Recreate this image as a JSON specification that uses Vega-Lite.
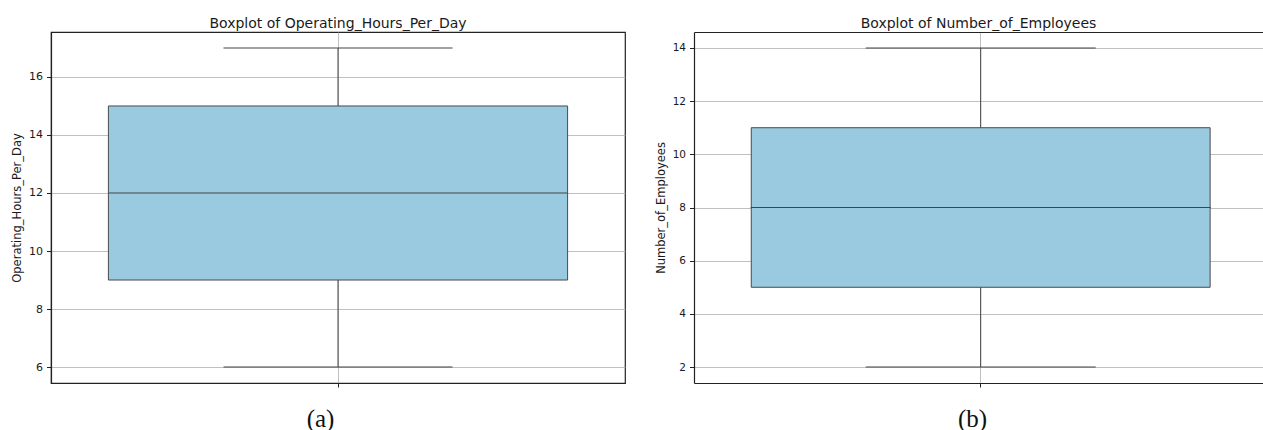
{
  "$schema": "https://vega.github.io/schema/vega-lite/v6.json",
  "padding": {"left": 10, "top": 16, "right": 0, "bottom": 0},
  "background": "white",
  "spacing": 29,
  "datasets": {
    "hours": [
      {"variable": "Operating_Hours_Per_Day", "lower": 6, "q1": 9, "median": 12, "q3": 15, "upper": 17}
    ],
    "employees": [
      {"variable": "Number_of_Employees", "lower": 2, "q1": 5, "median": 8, "q3": 11, "upper": 14}
    ]
  },
  "config": {
    "font": "DejaVu Sans",
    "title": {"font": "DejaVu Sans", "fontSize": 14, "fontWeight": "normal", "color": "#1a1a1a", "baseline": "alphabetic", "offset": 1},
    "axis": {
      "domainColor": "#222222",
      "domainWidth": 1.2,
      "tickColor": "#222222",
      "tickWidth": 1,
      "tickSize": 4.5,
      "labelFont": "DejaVu Sans",
      "labelColor": "#1a1a1a",
      "labelFontSize": 11,
      "labelPadding": 4,
      "titleFont": "DejaVu Sans",
      "titleColor": "#1a1a1a",
      "titleFontSize": 11.5,
      "titleFontWeight": "normal",
      "titlePadding": 6,
      "gridColor": "#b0b0b0",
      "gridWidth": 0.8
    }
  },
  "hconcat": [
    {
      "width": 574,
      "height": 351,
      "title": "Boxplot of Operating_Hours_Per_Day",
      "data": {"name": "hours"},
      "view": {"stroke": "#222222", "strokeWidth": 1.2},
      "encoding": {
        "x": {
          "field": "variable",
          "type": "nominal",
          "scale": {"paddingInner": 0, "paddingOuter": 0.125},
          "axis": {
            "title": "(a)",
            "labels": false,
            "grid": true,
            "tickSize": 4,
            "titleFont": "Liberation Serif",
            "titleFontSize": 25,
            "titleColor": "#111111",
            "titleBaseline": "alphabetic",
            "titleY": 43,
            "titleX": 269
          }
        }
      },
      "layer": [
        {
          "mark": {"type": "rule", "color": "#444444", "strokeWidth": 1},
          "encoding": {
            "y": {
              "field": "lower",
              "type": "quantitative",
              "title": "Operating_Hours_Per_Day",
              "scale": {"domain": [5.45, 17.55], "nice": false, "zero": false},
              "axis": {"values": [6, 8, 10, 12, 14, 16], "grid": true}
            },
            "y2": {"field": "upper"}
          }
        },
        {
          "mark": {"type": "tick", "size": 229, "thickness": 1, "color": "#444444", "opacity": 1},
          "encoding": {"y": {"field": "lower", "type": "quantitative", "title": "Operating_Hours_Per_Day"}}
        },
        {
          "mark": {"type": "tick", "size": 229, "thickness": 1, "color": "#444444", "opacity": 1},
          "encoding": {"y": {"field": "upper", "type": "quantitative", "title": "Operating_Hours_Per_Day"}}
        },
        {
          "mark": {"type": "bar", "fill": "#99cae0", "stroke": "#4a4a4a", "strokeWidth": 1, "opacity": 1},
          "encoding": {
            "y": {"field": "q1", "type": "quantitative", "title": "Operating_Hours_Per_Day"},
            "y2": {"field": "q3"}
          }
        },
        {
          "mark": {"type": "tick", "size": 459, "thickness": 1, "color": "#444444", "opacity": 1},
          "encoding": {"y": {"field": "median", "type": "quantitative", "title": "Operating_Hours_Per_Day"}}
        }
      ]
    },
    {
      "width": 569,
      "height": 351,
      "title": "Boxplot of Number_of_Employees",
      "data": {"name": "employees"},
      "view": {"stroke": null},
      "resolve": {"axis": {"x": "independent"}},
      "layer": [
        {
          "mark": {"type": "rule", "color": "#444444", "strokeWidth": 1},
          "encoding": {
            "x": {
              "field": "variable",
              "type": "nominal",
              "scale": {"paddingInner": 0, "paddingOuter": 0.12, "align": 0.52},
              "axis": {
                "title": "(b)",
                "labels": false,
                "grid": true,
                "tickSize": 4,
                "titleFont": "Liberation Serif",
                "titleFontSize": 25,
                "titleColor": "#111111",
                "titleBaseline": "alphabetic",
                "titleY": 43,
                "titleX": 278
              }
            },
            "y": {
              "field": "lower",
              "type": "quantitative",
              "title": "Number_of_Employees",
              "scale": {"domain": [1.4, 14.6], "nice": false, "zero": false},
              "axis": {"values": [2, 4, 6, 8, 10, 12, 14], "grid": true, "labelFontSize": 10.5}
            },
            "y2": {"field": "upper"}
          }
        },
        {
          "mark": {"type": "tick", "size": 230, "thickness": 1, "color": "#444444", "opacity": 1},
          "encoding": {
            "x": {"field": "variable", "type": "nominal", "axis": null},
            "y": {"field": "lower", "type": "quantitative", "title": "Number_of_Employees"}
          }
        },
        {
          "mark": {"type": "tick", "size": 230, "thickness": 1, "color": "#444444", "opacity": 1},
          "encoding": {
            "x": {"field": "variable", "type": "nominal", "axis": null},
            "y": {"field": "upper", "type": "quantitative", "title": "Number_of_Employees"}
          }
        },
        {
          "mark": {"type": "bar", "fill": "#99cae0", "stroke": "#4a4a4a", "strokeWidth": 1, "opacity": 1},
          "encoding": {
            "x": {"field": "variable", "type": "nominal", "axis": null},
            "y": {"field": "q1", "type": "quantitative", "title": "Number_of_Employees"},
            "y2": {"field": "q3"}
          }
        },
        {
          "mark": {"type": "tick", "size": 460, "thickness": 1, "color": "#444444", "opacity": 1},
          "encoding": {
            "x": {
              "field": "variable",
              "type": "nominal",
              "axis": {"orient": "top", "domain": true, "ticks": false, "labels": false, "grid": false, "title": null}
            },
            "y": {"field": "median", "type": "quantitative", "title": "Number_of_Employees"}
          }
        }
      ]
    }
  ]
}
